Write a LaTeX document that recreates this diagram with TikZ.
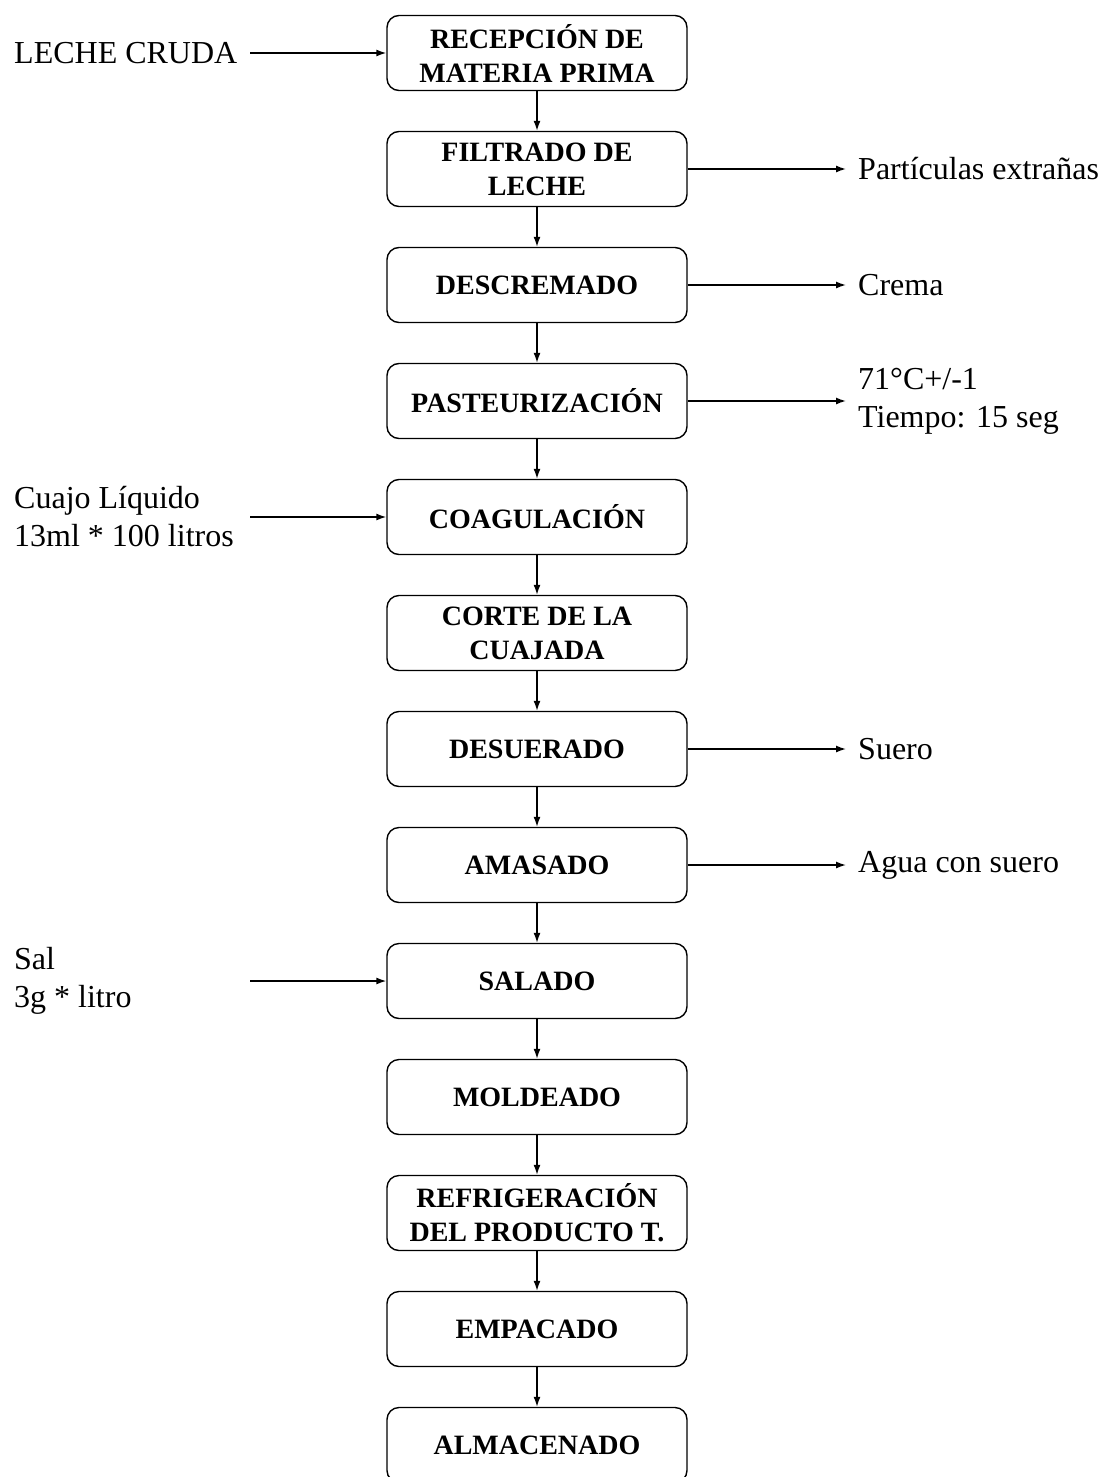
\documentclass[tikz,border=0pt]{standalone}
\usepackage{fontspec}
\setmainfont{Liberation Serif}
\usetikzlibrary{arrows.meta}
\begin{document}
\begin{tikzpicture}[x=1pt,y=-1pt,
  stepbox/.style={draw, rounded corners=12pt, line width=1.4pt,
    minimum width=300pt, minimum height=75pt, align=center, inner sep=0pt,
    font=\fontsize{28}{34}\selectfont\bfseries},
  flow/.style={-{Latex[length=10pt,width=7pt]}, line width=1.4pt},
  sidetext/.style={font=\fontsize{32}{38}\selectfont, align=left, inner sep=0pt}]
\useasboundingbox (0,0) rectangle (1104,1477);
\clip (0,0) rectangle (1104,1477);

% main process chain
\node[stepbox] (s1)  at (537,53)   {RECEPCIÓN DE\\MATERIA PRIMA};
\node[stepbox] (s2)  at (537,169)  {FILTRADO DE\\LECHE};
\node[stepbox] (s3)  at (537,285)  {DESCREMADO};
\node[stepbox] (s4)  at (537,401)  {PASTEURIZACIÓN};
\node[stepbox] (s5)  at (537,517)  {COAGULACIÓN};
\node[stepbox] (s6)  at (537,633)  {CORTE DE LA\\CUAJADA};
\node[stepbox] (s7)  at (537,749)  {DESUERADO};
\node[stepbox] (s8)  at (537,865)  {AMASADO};
\node[stepbox] (s9)  at (537,981)  {SALADO};
\node[stepbox] (s10) at (537,1097) {MOLDEADO};
\node[stepbox] (s11) at (537,1213) {REFRIGERACIÓN\\DEL PRODUCTO T.};
\node[stepbox] (s12) at (537,1329) {EMPACADO};
\node[stepbox] (s13) at (537,1445) {ALMACENADO};

\foreach \a/\b in {s1/s2,s2/s3,s3/s4,s4/s5,s5/s6,s6/s7,s7/s8,s8/s9,s9/s10,s10/s11,s11/s12,s12/s13}
  \draw[flow] (\a) -- (\b);

% inputs on the left
\node[sidetext, anchor=west] (in1) at (14,53) {LECHE CRUDA};
\node[sidetext, anchor=west] (in2) at (14,517) {Cuajo Líquido\\13ml * 100 litros};
\node[sidetext, anchor=west] (in3) at (14,981) {Sal\\3g * litro};
\coordinate (c1) at (250,53);
\coordinate (c2) at (250,517);
\coordinate (c3) at (250,981);
\draw[flow] (c1) -- (s1.west);
\draw[flow] (c2) -- (s5.west);
\draw[flow] (c3) -- (s9.west);

% outputs on the right
\node[sidetext, anchor=west] (out1) at (858,169) {Partículas extrañas};
\node[sidetext, anchor=west] (out2) at (858,285) {Crema};
\node[sidetext, anchor=west] (out3) at (858,401) {71°C+/-1\\Tiempo: 15 seg};
\node[sidetext, anchor=west] (out4) at (858,749) {Suero};
\node[sidetext, anchor=west] (out5) at (858,865) {Agua con suero};
\coordinate (d1) at (846,169);
\coordinate (d2) at (846,285);
\coordinate (d3) at (846,401);
\coordinate (d4) at (846,749);
\coordinate (d5) at (846,865);
\draw[flow] (s2.east) -- (d1);
\draw[flow] (s3.east) -- (d2);
\draw[flow] (s4.east) -- (d3);
\draw[flow] (s7.east) -- (d4);
\draw[flow] (s8.east) -- (d5);
\end{tikzpicture}
\end{document}
